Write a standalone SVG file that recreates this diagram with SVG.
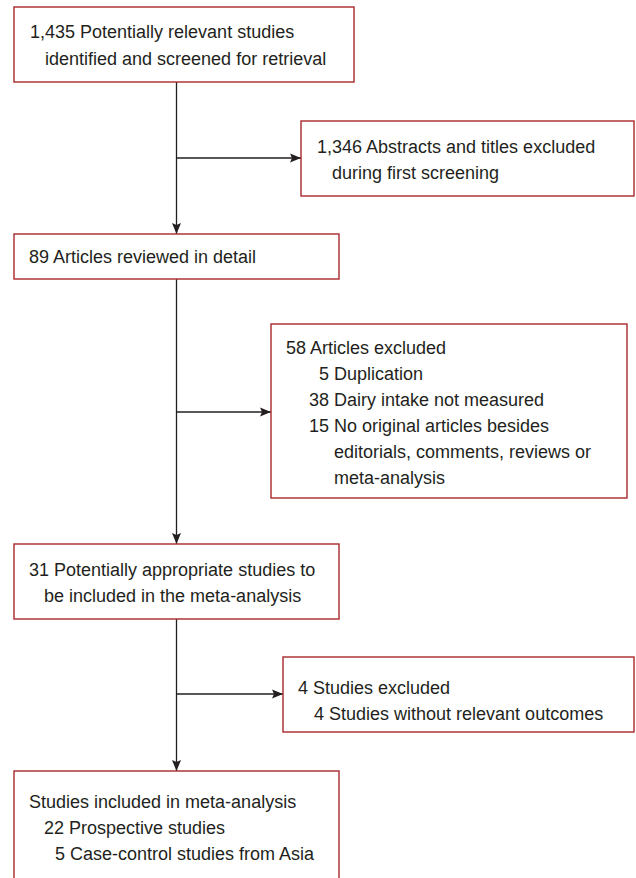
<svg xmlns="http://www.w3.org/2000/svg" width="636" height="878" viewBox="0 0 636 878">
<style>
.box{fill:#ffffff;stroke:#a8282d;stroke-width:1.4}
.t{font-family:"Liberation Sans",Arial,sans-serif;font-size:18px;fill:#231f20}
.ln{stroke:#231f20;stroke-width:1.3;fill:none}
</style>
<defs>
<marker id="ah" markerWidth="11" markerHeight="10" refX="11" refY="5" orient="auto" markerUnits="userSpaceOnUse">
<path d="M0,0.5 L11,5 L0,9.5 L2,5 Z" fill="#231f20"/>
</marker>
</defs>
<rect width="636" height="878" fill="#ffffff"/>
<g id="connectors">
<line class="ln" x1="176.5" y1="82" x2="176.5" y2="234" marker-end="url(#ah)"/>
<line class="ln" x1="176.5" y1="158" x2="301" y2="158" marker-end="url(#ah)"/>
<line class="ln" x1="176.5" y1="279" x2="176.5" y2="544" marker-end="url(#ah)"/>
<line class="ln" x1="176.5" y1="412" x2="271" y2="412" marker-end="url(#ah)"/>
<line class="ln" x1="176.5" y1="619" x2="176.5" y2="771" marker-end="url(#ah)"/>
<line class="ln" x1="176.5" y1="694" x2="283" y2="694" marker-end="url(#ah)"/>
</g>
<g id="n1">
<rect class="box" x="14" y="7" width="340" height="75"/>
<text class="t" x="30" y="38">1,435 Potentially relevant studies</text>
<text class="t" x="45" y="65">identified and screened for retrieval</text>
</g>
<g id="n2">
<rect class="box" x="301" y="121" width="333" height="75"/>
<text class="t" x="317" y="153">1,346 Abstracts and titles excluded</text>
<text class="t" x="332" y="179">during first screening</text>
</g>
<g id="n3">
<rect class="box" x="14" y="234" width="325" height="45"/>
<text class="t" x="29" y="263">89 Articles reviewed in detail</text>
</g>
<g id="n4">
<rect class="box" x="271" y="324" width="356" height="174"/>
<text class="t" x="286" y="354">58 Articles excluded</text>
<text class="t" x="329" y="380" text-anchor="end">5</text>
<text class="t" x="334" y="380">Duplication</text>
<text class="t" x="329" y="406" text-anchor="end">38</text>
<text class="t" x="334" y="406">Dairy intake not measured</text>
<text class="t" x="329" y="432" text-anchor="end">15</text>
<text class="t" x="334" y="432">No original articles besides</text>
<text class="t" x="334" y="458">editorials, comments, reviews or</text>
<text class="t" x="334" y="484">meta-analysis</text>
</g>
<g id="n5">
<rect class="box" x="14" y="544" width="325" height="75"/>
<text class="t" x="29" y="576">31 Potentially appropriate studies to</text>
<text class="t" x="44" y="602">be included in the meta-analysis</text>
</g>
<g id="n6">
<rect class="box" x="283" y="657" width="351" height="75"/>
<text class="t" x="298" y="694">4 Studies excluded</text>
<text class="t" x="314" y="720">4 Studies without relevant outcomes</text>
</g>
<g id="n7">
<rect class="box" x="14" y="771" width="325" height="120"/>
<text class="t" x="29" y="808">Studies included in meta-analysis</text>
<text class="t" x="44" y="834">22 Prospective studies</text>
<text class="t" x="55" y="860">5 Case-control studies from Asia</text>
</g>
</svg>
